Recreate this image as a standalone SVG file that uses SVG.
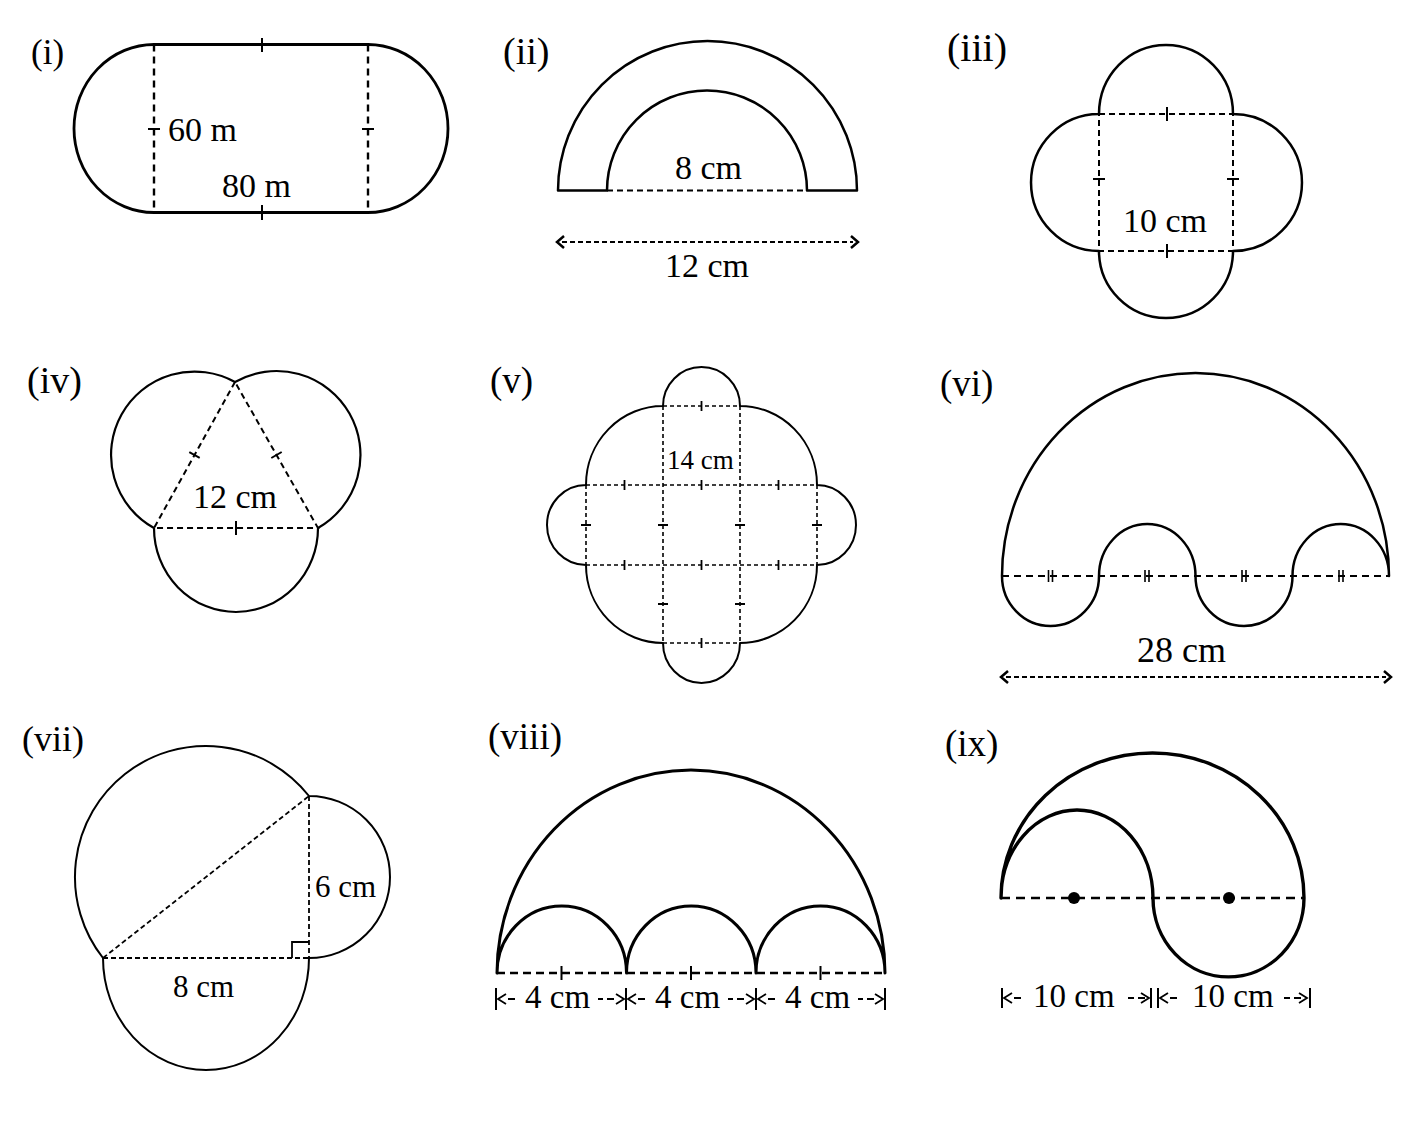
<svg xmlns="http://www.w3.org/2000/svg" width="1401" height="1123" viewBox="0 0 1401 1123">
<style>
.o{fill:none;stroke:#000;stroke-width:2.5;stroke-linejoin:round}
.d{fill:none;stroke:#000;stroke-width:2;stroke-dasharray:7 5}
.ds{fill:none;stroke:#000;stroke-width:1.6;stroke-dasharray:4 3}
.k{fill:none;stroke:#000;stroke-width:2}
.t{font-family:"Liberation Serif","Times New Roman",serif;fill:#000;font-size:34px}
.l{font-family:"Liberation Serif","Times New Roman",serif;fill:#000;font-size:36px}
</style>
<rect width="1401" height="1123" fill="#fff"/>

<g id="fig-i">
<path class="o" style="stroke-width:2.8" d="M154,44.5 H368 A80,84 0 0 1 368,212.5 H154 A80,84 0 0 1 154,44.5 Z"/>
<path class="d" style="stroke-width:2.4" d="M154,44.5 V212.5 M368,44.5 V212.5"/>
<path class="k" d="M262,38 V52 M262,205 V220 M148,129 H160 M362,129 H374"/>
<text class="l" x="31" y="64" style="font-size:35px">(i)</text>
<text class="t" x="168" y="141">60 m</text>
<text class="t" x="222" y="197">80 m</text>
</g>

<g id="fig-ii">
<path class="o" d="M558,190.5 A149.5,149.5 0 0 1 857,190.5 H807 A100,100 0 0 0 607,190.5 Z"/>
<path class="d" style="stroke-dasharray:6 4" d="M607,190.5 H807"/>
<path class="ds" style="stroke-width:2;stroke-dasharray:5 3" d="M562,242 H853"/>
<path class="k" style="stroke-width:2.5" d="M564,236 L557,242 L564,248 M851,236 L858,242 L851,248"/>
<text class="l" x="503" y="64" style="font-size:38px">(ii)</text>
<text class="t" x="675" y="179">8 cm</text>
<text class="t" x="665" y="277">12 cm</text>
</g>

<g id="fig-iii">
<path class="o" d="M1099,114 A67,69 0 0 1 1233,114 A69,68.5 0 0 1 1233,251 A67,67 0 0 1 1099,251 A68,68.5 0 0 1 1099,114 Z"/>
<rect class="d" style="stroke-dasharray:6 4" x="1099" y="114" width="134" height="137"/>
<path class="k" d="M1167,107 V121 M1167,244 V258 M1093,179 H1105 M1227,179 H1239"/>
<text class="l" x="947" y="61" style="font-size:40px">(iii)</text>
<text class="t" x="1123" y="232">10 cm</text>
</g>

<g id="fig-iv">
<path class="o" style="stroke-width:2.2" d="M235,382 A80,80 0 0 0 154,528 A82,84 0 0 0 318,528 A80,80 0 0 0 235,382 Z"/>
<path class="d" style="stroke-dasharray:6 4" d="M235,382 L154,528 H318 Z"/>
<path class="k" d="M189.3,452.1 L199.7,457.9 M271.3,458 L281.7,452 M236,521 V535"/>
<text class="l" x="27" y="393" style="font-size:38px">(iv)</text>
<text class="t" x="193" y="508">12 cm</text>
</g>

<g id="fig-v">
<path class="o" style="stroke-width:2" d="M663,406 A38.5,39 0 0 1 740,406 A77,79 0 0 1 817,485 A39,40 0 0 1 817,565 A77,78 0 0 1 740,643 A38.5,40 0 0 1 663,643 A77,78 0 0 1 586,565 A39,40 0 0 1 586,485 A77,79 0 0 1 663,406 Z"/>
<path class="ds" d="M663,406 H740 M586,485 H817 M586,565 H817 M663,643 H740 M663,406 V643 M740,406 V643 M586,485 V565 M817,485 V565"/>
<path class="k" style="stroke-width:1.8" d="M701.5,401 V411 M624.5,480 V490 M701.5,480 V490 M778.5,480 V490 M624.5,560 V570 M701.5,560 V570 M778.5,560 V570 M701.5,638 V648 M581,525 H591 M658,525 H668 M735,525 H745 M812,525 H822 M658,604 H668 M735,604 H745"/>
<text class="l" x="490" y="393" style="font-size:37px">(v)</text>
<text class="t" x="667" y="469" style="font-size:27px">14 cm</text>
</g>

<g id="fig-vi">
<path class="o" d="M1002,576 A193.5,203 0 0 1 1389,576 A48.25,52 0 0 0 1292.5,576 A48.5,50 0 0 1 1195.5,576 A48.25,52 0 0 0 1099,576 A48.5,50 0 0 1 1002,576 Z"/>
<path class="d" d="M1002,576 H1389"/>
<path class="k" style="stroke-width:1.6" d="M1048.5,570 V582 M1052.5,570 V582 M1145,570 V582 M1149,570 V582 M1242,570 V582 M1246,570 V582 M1339,570 V582 M1343,570 V582"/>
<path class="ds" style="stroke-width:2;stroke-dasharray:5 3" d="M1006,677 H1386"/>
<path class="k" style="stroke-width:2.5" d="M1008,671 L1001,677 L1008,683 M1384,671 L1391,677 L1384,683"/>
<text class="l" x="940" y="396" style="font-size:37px">(vi)</text>
<text class="t" x="1137" y="662" style="font-size:36px">28 cm</text>
</g>

<g id="fig-vii">
<path class="o" style="stroke-width:2" d="M103,958 A120,120 0 0 1 309,796 A81,81 0 0 1 309,958 A103,112 0 0 1 103,958 Z"/>
<path class="ds" style="stroke-width:1.8;stroke-dasharray:5 3" d="M103,958 L309,796 M309,796 V958 M103,958 H309"/>
<path class="k" style="stroke-width:1.8" d="M292,958 V942 H309"/>
<text class="l" x="22" y="751">(vii)</text>
<text class="t" x="315" y="897" style="font-size:31px">6 cm</text>
<text class="t" x="173" y="997" style="font-size:31px">8 cm</text>
</g>

<g id="fig-viii">
<path class="o" style="stroke-width:3" d="M497,973 A194,203 0 0 1 885,973 A64.5,67 0 0 0 756,973 A64.75,67 0 0 0 626.5,973 A64.75,67 0 0 0 497,973 Z"/>
<path class="d" style="stroke-width:2.5;stroke-dasharray:8 5" d="M497,973 H885"/>
<path class="k" d="M561.5,966 V980 M691,966 V980 M820.5,966 V980"/>
<path class="k" d="M496,988 V1010 M626,988 V1010 M756,988 V1010 M885,988 V1010"/>
<path class="k" style="stroke-width:1.8" d="M506,994 L498,999 L506,1004 M508,999 H515 M598,999 H603 M607,999 H614 M616,994 L624,999 L616,1004 M636,994 L628,999 L636,1004 M638,999 H645 M728,999 H733 M737,999 H744 M746,994 L754,999 L746,1004 M766,994 L758,999 L766,1004 M768,999 H775 M858,999 H863 M867,999 H874 M875,994 L883,999 L875,1004"/>
<text class="l" x="488" y="749" style="font-size:37px">(viii)</text>
<text class="t" x="525" y="1008" style="font-size:33px">4 cm</text>
<text class="t" x="655" y="1008" style="font-size:33px">4 cm</text>
<text class="t" x="785" y="1008" style="font-size:33px">4 cm</text>
</g>

<g id="fig-ix">
<path class="o" style="stroke-width:3.4" d="M1001,898 A151.5,145 0 0 1 1304,898 A75.5,79 0 0 1 1153,898 A76,88 0 0 0 1001,898 Z"/>
<path class="d" style="stroke-width:2.6;stroke-dasharray:9 6" d="M1001,898 H1304"/>
<circle cx="1074" cy="898" r="6"/>
<circle cx="1229" cy="898" r="6"/>
<path class="k" d="M1002,988 V1008 M1151,988 V1008 M1158,988 V1008 M1310,988 V1008"/>
<path class="k" style="stroke-width:1.8" d="M1012,993 L1004,998 L1012,1003 M1014,998 H1021 M1128,998 H1134 M1138,998 H1145 M1141,993 L1149,998 L1141,1003 M1168,993 L1160,998 L1168,1003 M1170,998 H1177 M1284,998 H1290 M1294,998 H1301 M1299,993 L1307,998 L1299,1003"/>
<text class="l" x="945" y="756" style="font-size:37px">(ix)</text>
<text class="t" x="1033" y="1007" style="font-size:33px">10 cm</text>
<text class="t" x="1192" y="1007" style="font-size:33px">10 cm</text>
</g>
</svg>
